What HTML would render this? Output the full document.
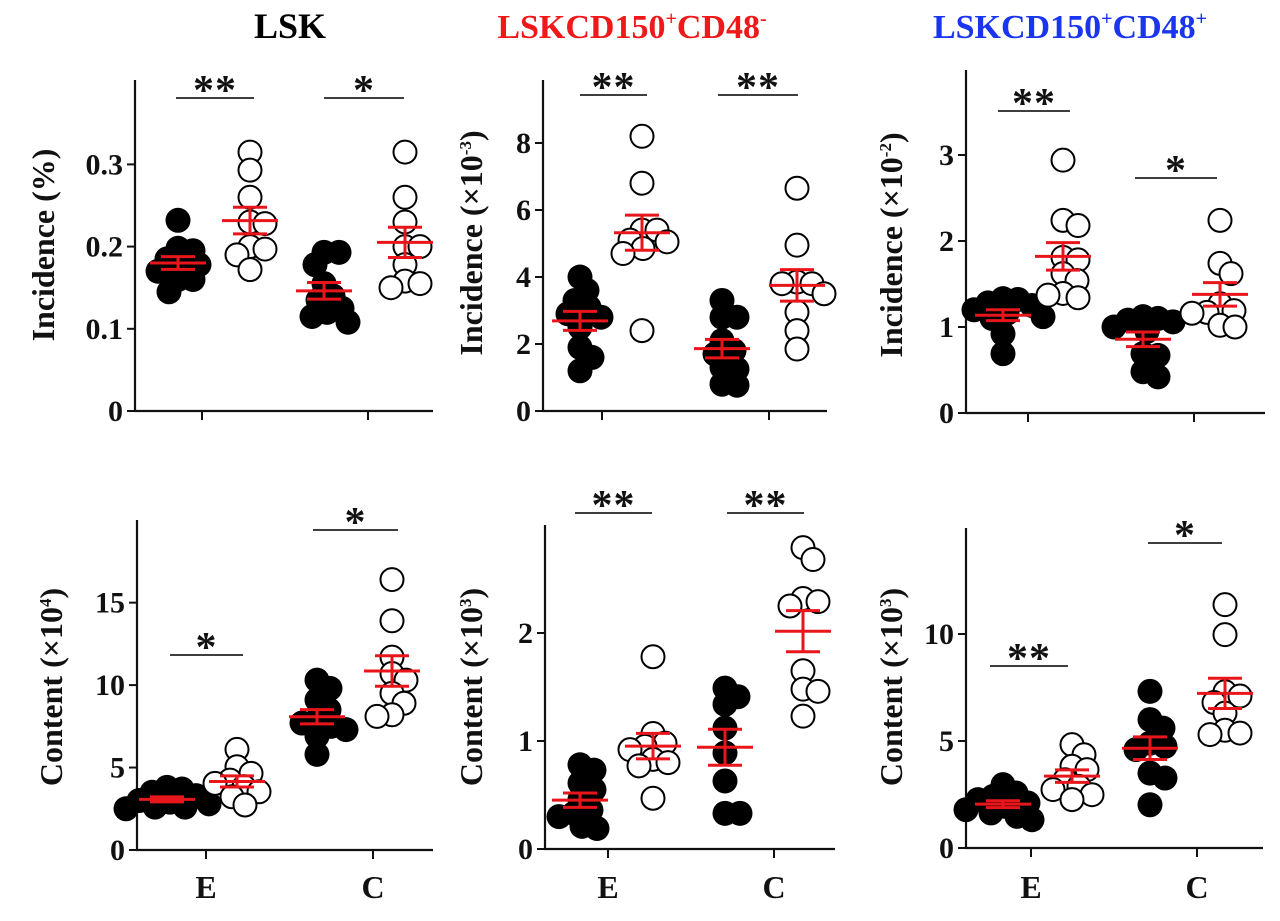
<!DOCTYPE html>
<html><head><meta charset="utf-8"><style>
html,body{margin:0;padding:0;background:#fff;}
svg{display:block;font-family:"Liberation Serif",serif;font-weight:bold;}
</style></head><body>
<svg id="chart" width="1280" height="921" viewBox="0 0 1280 921" xmlns="http://www.w3.org/2000/svg">
<text x="290" y="38" font-size="36" text-anchor="middle" fill="#000">LSK</text>
<text x="632" y="38" font-size="34" text-anchor="middle" fill="#f01818">LSKCD150<tspan font-size="20" dy="-13">+</tspan><tspan dy="13">CD48</tspan><tspan font-size="20" dy="-13">-</tspan></text>
<text x="1070" y="38" font-size="34" text-anchor="middle" fill="#1a35f0">LSKCD150<tspan font-size="20" dy="-13">+</tspan><tspan dy="13">CD48</tspan><tspan font-size="20" dy="-13">+</tspan></text>
</svg>
<script>
// ---- data ----
const groupLabels = ["E", "C"];
const lskIncEfill = [0.232,0.198,0.195,0.185,0.178,0.178,0.17,0.16,0.16,0.145];
const lskIncEopen = [0.315,0.293,0.26,0.23,0.228,0.2,0.197,0.19,0.172];
const lskIncCfill = [0.193,0.193,0.178,0.155,0.14,0.135,0.125,0.12,0.115,0.108];
const lskIncCopen = [0.315,0.26,0.23,0.2,0.2,0.178,0.158,0.155,0.15];
const lskIncTicks = [0, 0.1, 0.2, 0.3];

const negIncEfill = [4.0,3.6,3.3,3.1,2.9,2.8,2.5,1.9,1.6,1.2];
const negIncEopen = [8.2,6.8,5.4,5.4,5.1,5.05,4.85,4.7,2.4];
const negIncCfill = [3.3,2.8,2.8,2.1,1.8,1.7,1.3,1.25,0.8,0.77];
const negIncCopen = [6.65,4.95,3.85,3.8,3.8,3.5,2.95,2.4,1.85];
const negIncTicks = [0, 2, 4, 6, 8];

const posIncEfill = [1.33,1.32,1.28,1.25,1.2,1.16,1.12,1.1,0.92,0.69];
const posIncEopen = [2.94,2.24,2.18,1.81,1.78,1.62,1.54,1.39,1.37,1.34];
const posIncCfill = [1.12,1.1,1.08,1.06,1.0,0.95,0.69,0.67,0.48,0.42];
const posIncCopen = [2.24,1.74,1.62,1.27,1.19,1.17,1.16,1.02,1.0];
const posIncTicks = [0, 1, 2, 3];

const lskConEfill = [3.8,3.7,3.5,3.3,3.0,2.9,2.8,2.6,2.6,2.5];
const lskConEopen = [6.1,5.05,4.65,4.24,4.04,3.84,3.53,3.23,2.73];
const lskConCfill = [10.3,9.8,9.1,8.5,7.9,7.7,7.5,7.3,6.9,5.8];
const lskConCopen = [16.4,13.9,11.7,10.7,10.3,9.5,8.9,8.2,8.1];
const lskConTicks = [0, 5, 10, 15];

const negConEfill = [0.78,0.73,0.61,0.55,0.46,0.36,0.33,0.3,0.21,0.19];
const negConEopen = [1.78,1.07,0.98,0.95,0.92,0.83,0.8,0.77,0.47];
const negConCfill = [1.49,1.41,1.34,1.12,0.89,0.63,0.33,0.33];
const negConCopen = [2.79,2.68,2.32,2.29,2.25,1.65,1.48,1.46,1.23];
const negConTicks = [0, 1, 2];

const posConEfill = [2.96,2.57,2.41,2.26,2.1,1.95,1.79,1.64,1.48,1.32];
const posConEopen = [4.83,4.36,3.82,3.66,3.19,2.88,2.73,2.49,2.26];
const posConCfill = [7.32,6.0,5.6,4.9,4.75,4.6,3.5,3.27,2.02];
const posConCopen = [11.37,9.97,7.3,7.1,6.8,6.3,5.5,5.37,5.3];
const posConTicks = [0, 5, 10];

const sigLabels = [["**","*"],["**","**"],["**","*"],["*","*"],["**","**"],["**","*"]];

// ---- layout ----
const NS = "http://www.w3.org/2000/svg";
const svg = document.getElementById("chart");
const RED = "#e8161b";
function mk(tag, attrs, parent){const e=document.createElementNS(NS,tag);for(const k in attrs)e.setAttribute(k,attrs[k]);(parent||svg).appendChild(e);return e;}

const panels = [
 {id:"lsk-incidence", series:[lskIncEfill,lskIncEopen,lskIncCfill,lskIncCopen], ticks:lskIncTicks, tickFmt:v=>v===0?"0":v.toFixed(1),
  ax:135, y0:411, unit:822, top:80, right:433, xt:[202,368], gc:[178,250,324,405],
  sig:[[176,254,98],[324,404,98]], yl:"Incidence (%)", ylx:54, yly:245, xlab:false},
 {id:"cd48neg-incidence", series:[negIncEfill,negIncEopen,negIncCfill,negIncCopen], ticks:negIncTicks, tickFmt:v=>String(v),
  ax:543, y0:411, unit:33.5, top:80, right:827, xt:[602,769], gc:[580,642,722,797],
  sig:[[580,647,95],[718,798,95]], yl:"Incidence (×10<tspan font-size='17' dy='-11'>-3</tspan><tspan dy='11'>)</tspan>", ylx:482, yly:243, xlab:false},
 {id:"cd48pos-incidence", series:[posIncEfill,posIncEopen,posIncCfill,posIncCopen], ticks:posIncTicks, tickFmt:v=>String(v),
  ax:966, y0:413, unit:86, top:70, right:1265, xt:[1028,1194], gc:[1003,1063,1143,1220],
  sig:[[998,1070,111],[1135,1217,178]], yl:"Incidence (×10<tspan font-size='17' dy='-11'>-2</tspan><tspan dy='11'>)</tspan>", ylx:902, yly:245, xlab:false},
 {id:"lsk-content", series:[lskConEfill,lskConEopen,lskConCfill,lskConCopen], ticks:lskConTicks, tickFmt:v=>String(v),
  ax:137, y0:850, unit:16.49, top:520, right:433, xt:[206,373], gc:[167,237,317,392],
  sig:[[170,243,655],[313,398,530]], yl:"Content (×10<tspan font-size='17' dy='-11'>4</tspan><tspan dy='11'>)</tspan>", ylx:62, yly:687, xlab:true},
 {id:"cd48neg-content", series:[negConEfill,negConEopen,negConCfill,negConCopen], ticks:negConTicks, tickFmt:v=>String(v),
  ax:545, y0:849, unit:108, top:525, right:835, xt:[608,774], gc:[580,653,725,803],
  sig:[[575,652,513],[727,804,513]], yl:"Content (×10<tspan font-size='17' dy='-11'>3</tspan><tspan dy='11'>)</tspan>", ylx:482, yly:687, xlab:true},
 {id:"cd48pos-content", series:[posConEfill,posConEopen,posConCfill,posConCopen], ticks:posConTicks, tickFmt:v=>String(v),
  ax:966, y0:848, unit:21.4, top:528, right:1263, xt:[1031,1197], gc:[1003,1072,1150,1225],
  sig:[[990,1068,666],[1148,1222,543]], yl:"Content (×10<tspan font-size='17' dy='-11'>3</tspan><tspan dy='11'>)</tspan>", ylx:902, yly:687, xlab:true}
];

function swarm(vals, yfn, cx){
  const D=15, pts=[];
  const order=vals.map((v,i)=>i).sort((a,b)=>vals[b]-vals[a]);
  const out=new Array(vals.length);
  for(const i of order){
    const y=yfn(vals[i]);
    let best=null;
    for(let k=0;k<60&&best===null;k++){
      for(const s of (k===0?[0]:[k,-k])){
        const x=cx+s;
        if(pts.every(p=>Math.hypot(p[0]-x,p[1]-y)>=D)){best=x;break;}
      }
    }
    if(best===null)best=cx;
    pts.push([best,y]); out[i]=[best,y];
  }
  return out;
}

panels.forEach((P,pi)=>{
  const g=mk("g",{});
  
  
  const y=v=>P.y0-v*P.unit;
  const ya=mk("line",{x1:P.ax,y1:P.top,x2:P.ax,y2:P.y0,stroke:"#111","stroke-width":2.2},g);
  
  
  const xa=mk("line",{x1:P.ax-1,y1:P.y0,x2:P.right,y2:P.y0,stroke:"#111","stroke-width":2.2},g);
  
  
  P.ticks.forEach(t=>{
    mk("line",{x1:P.ax-8,y1:y(t),x2:P.ax,y2:y(t),stroke:"#111","stroke-width":2},g);
    const tl=mk("text",{x:P.ax-12,y:y(t)+10,"font-size":30,"text-anchor":"end",fill:"#111"},g);
    tl.textContent=P.tickFmt(t);
    
    
  });
  P.xt.forEach((xx,i)=>{
    mk("line",{x1:xx,y1:P.y0,x2:xx,y2:P.y0+9,stroke:"#111","stroke-width":2},g);
    if(P.xlab){
      const xl=mk("text",{x:xx,y:898,"font-size":32,"text-anchor":"middle",fill:"#111"},g);
      xl.textContent=groupLabels[i];
      
      
    }
  });
  const yt=mk("text",{x:0,y:0,"font-size":32,"text-anchor":"middle",fill:"#111",transform:`translate(${P.ylx},${P.yly}) rotate(-90)`},g);
  yt.innerHTML=P.yl;
  
  
  P.sig.forEach((s,i)=>{
    mk("line",{x1:s[0],y1:s[2],x2:s[1],y2:s[2],stroke:"#222","stroke-width":1.8},g);
    const st=mk("text",{x:(s[0]+s[1])/2,y:s[2]+6,"font-size":42,"text-anchor":"middle",fill:"#111","letter-spacing":"1"},g);
    st.textContent=sigLabels[pi][i];
    
    
  });
  P.series.forEach((vals,si)=>{
    const filled = si%2===0;
    const pos=swarm(vals,y,P.gc[si]);
    pos.forEach(p=>{
      const c=mk("circle",{cx:p[0],cy:p[1],r:filled?12.5:11.5,fill:filled?"#000":"#fff",stroke:"#000","stroke-width":filled?0:2},g);
      
      
    });
  });
  P.series.forEach((vals,si)=>{
    const n=vals.length, m=vals.reduce((a,b)=>a+b,0)/n;
    const sd=Math.sqrt(vals.reduce((a,b)=>a+(b-m)*(b-m),0)/(n-1)), se=sd/Math.sqrt(n);
    const cx=P.gc[si];
    const eg=mk("g",{stroke:RED,"stroke-width":3,fill:"none"},g);
    
    
    mk("line",{x1:cx-28,y1:y(m),x2:cx+28,y2:y(m)},eg);
    mk("line",{x1:cx,y1:y(m+se),x2:cx,y2:y(m-se)},eg);
    mk("line",{x1:cx-17,y1:y(m+se),x2:cx+17,y2:y(m+se)},eg);
    mk("line",{x1:cx-17,y1:y(m-se),x2:cx+17,y2:y(m-se)},eg);
  });
});
</script>
</body></html>
